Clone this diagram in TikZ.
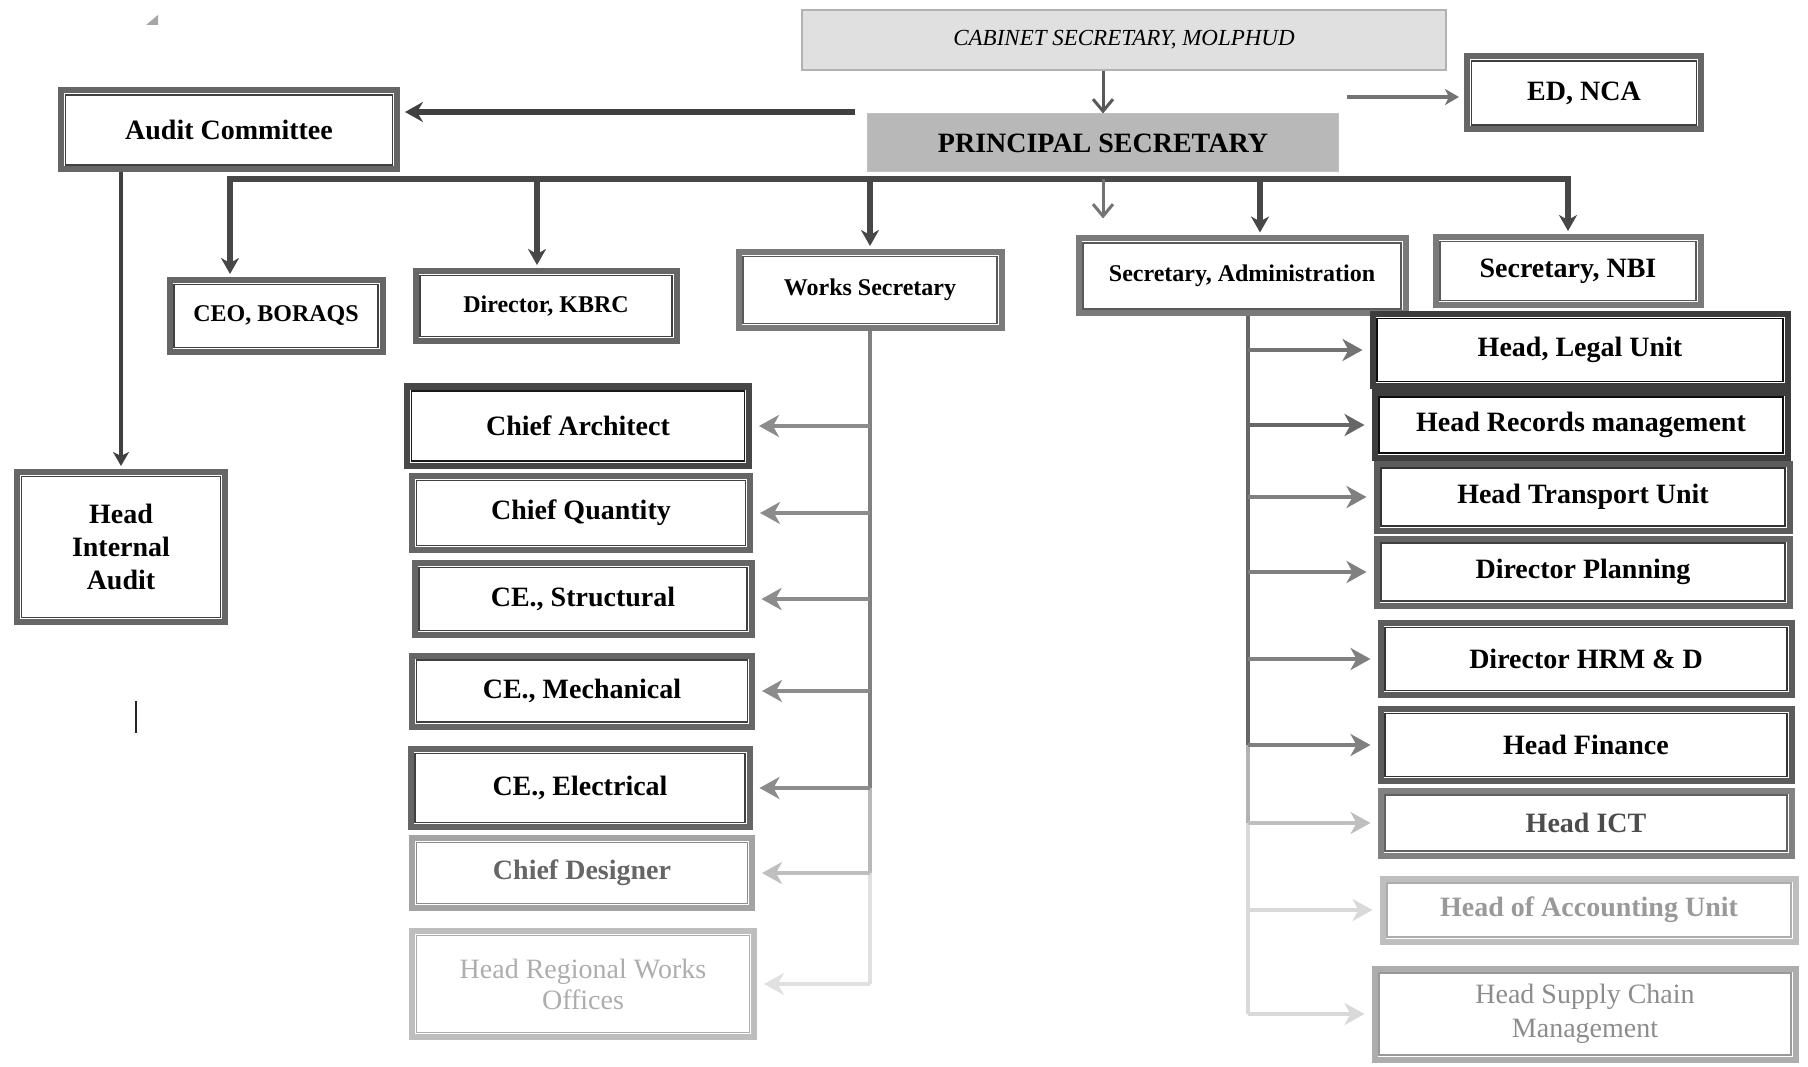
\documentclass[tikz,border=0pt]{standalone}
\usepackage{fontspec}
\setmainfont{Liberation Serif}
\usetikzlibrary{arrows.meta}

\begin{document}
\begin{tikzpicture}[x=1pt,y=-1pt]

	\useasboundingbox (0,0) rectangle (1808,1067);

	\tikzset{unit/.style={draw=#1!white!80,line width=6pt,align=center,inner sep=0pt,
		font=\fontsize{28}{33}\selectfont\bfseries,
		append after command={\pgfextra{\let\unitnode\tikzlastnode
			\draw[#1,line width=1.6pt] ([shift={(7.5pt,7.5pt)}]\unitnode.south west) rectangle ([shift={(-7.5pt,-7.5pt)}]\unitnode.north east);}}},
		unit/.default=black!75}
	\tikzstyle{small}=[font=\fontsize{24}{28}\selectfont\bfseries]
	\tikzstyle{busline}=[draw=black!72,line width=6pt,-{Stealth[length=16pt,width=18pt,inset=5pt]},shorten >=3pt]
	\tikzstyle{veearrow}=[draw=black!65,line width=3pt,-{Straight Barb[length=12pt,width=20pt]}]
	\tikzstyle{feed}=[draw=black!45,line width=4pt,-{Stealth[length=20pt,width=22pt,inset=6pt]},shorten >=7pt]

	% top of the chart
	\node[draw=black!30,fill=black!12,line width=2pt,minimum width=644pt,minimum height=60pt,font=\fontsize{23}{27}\selectfont\itshape] (cab) at (1124,40) {CABINET SECRETARY, MOLPHUD};
	\node[draw=black!25,fill=black!28,line width=1pt,minimum width=471pt,minimum height=58pt,font=\fontsize{28}{33}\selectfont\bfseries] (prin) at (1103,143) {PRINCIPAL SECRETARY};

	\node[unit,minimum width=336pt,minimum height=79pt] (audc) at (229,130) {Audit Committee};
	\node[unit,minimum width=234pt,minimum height=73pt] (ednca) at (1584,93) {ED, NCA};
	\node[unit,minimum width=208pt,minimum height=150pt] (hia) at (121,547) {Head\\Internal\\Audit};

	% second level
	\node[unit,small,minimum width=213pt,minimum height=72pt] (ceo) at (276,316) {CEO, BORAQS};
	\node[unit,small,minimum width=261pt,minimum height=70pt] (kbrc) at (546,306) {Director, KBRC};
	\node[unit=black!65,small,minimum width=263pt,minimum height=76pt] (works) at (870,290) {Works Secretary};
	\node[unit=black!65,small,minimum width=327pt,minimum height=75pt] (sadm) at (1242,276) {Secretary, Administration};
	\node[unit=black!65,minimum width=265pt,minimum height=68pt] (nbi) at (1568,271) {Secretary, NBI};

	% works secretary column
	\node[unit=black!90,minimum width=342pt,minimum height=79pt] (carch) at (578,426) {Chief Architect};
	\node[unit,minimum width=338pt,minimum height=74pt] (cqty) at (581,513) {Chief Quantity};
	\node[unit,minimum width=337pt,minimum height=72pt] (cestr) at (583,599) {CE., Structural};
	\node[unit,minimum width=340pt,minimum height=71pt] (cemech) at (582,691) {CE., Mechanical};
	\node[unit,minimum width=339pt,minimum height=78pt] (ceelec) at (580,788) {CE., Electrical};
	\node[unit=black!45,text=black!60,minimum width=340pt,minimum height=70pt] (cdes) at (582,873) {Chief Designer};
	\node[unit=black!32,text=black!32,font=\fontsize{28}{31}\selectfont,minimum width=342pt,minimum height=106pt] (hrwo) at (583,984) {Head Regional Works\\Offices};

	% administration column
	\node[unit=black!95,minimum width=415pt,minimum height=72pt] (hlegal) at (1580,350) {Head, Legal Unit};
	\node[unit=black!95,minimum width=413pt,minimum height=65pt] (hrec) at (1581,425) {Head Records management};
	\node[unit=black!80,minimum width=413pt,minimum height=67pt] (htrans) at (1583,497) {Head Transport Unit};
	\node[unit=black!75,minimum width=413pt,minimum height=67pt] (dplan) at (1583,572) {Director Planning};
	\node[unit=black!80,minimum width=411pt,minimum height=72pt] (dhrm) at (1586,659) {Director HRM \& D};
	\node[unit=black!80,minimum width=411pt,minimum height=72pt] (hfin) at (1586,745) {Head Finance};
	\node[unit=black!62,text=black!70,minimum width=411pt,minimum height=65pt] (hict) at (1586,823) {Head ICT};
	\node[unit=black!32,text=black!40,minimum width=413pt,minimum height=63pt] (hacc) at (1589,910) {Head of Accounting Unit};
	\node[unit=black!40,text=black!45,font=\fontsize{28}{34}\selectfont,minimum width=421pt,minimum height=91pt] (hscm) at (1585,1014) {Head Supply Chain\\Management};

	\coordinate (audfrom) at (855,112);
	\coordinate (edfrom) at (1347,97);
	\coordinate (bus) at ([yshift=-7pt]prin.south);
	\coordinate (stray) at ([yshift=-39pt]bus);
	\coordinate (atop) at ([xshift=6pt]sadm.south);

	\draw[veearrow] (cab.south -| prin.north) -- (prin.north);
	\draw[draw=black!75,line width=6pt,-{Stealth[length=18pt,width=20pt,inset=6pt]},shorten >=5pt] (audfrom) -- (audfrom -| audc.east);
	\draw[draw=black!55,line width=3.5pt,-{Stealth[length=14pt,width=16pt,inset=4pt]},shorten >=5pt] (edfrom) -- (edfrom -| ednca.west);
	\draw[draw=black!75,line width=4pt,-{Stealth[length=14pt,width=16pt,inset=4pt]},shorten >=3pt] (hia.north |- audc.south) -- (hia.north);

	% bus under the principal secretary
	\draw[busline] (bus) -| ([xshift=-46pt]ceo.north);
	\draw[busline] (bus) -| ([xshift=-9pt]kbrc.north);
	\draw[busline] (bus) -| (works.north);
	\draw[busline] (bus) -| ([xshift=18pt]sadm.north);
	\draw[busline] (bus) -| (nbi.north);
	\draw[veearrow,draw=black!55] (bus) -- (stray);

	% works secretary branches
	\draw[draw=black!50,line width=4pt] (works.south) -- (works.south |- ceelec.east);
	\draw[draw=black!28,line width=4pt] (works.south |- ceelec.east) -- (works.south |- cdes.east);
	\draw[draw=black!12,line width=4pt] (works.south |- cdes.east) -- (works.south |- hrwo.east);
	\draw[feed] (works.south |- carch.east) -- (carch.east);
	\draw[feed] (works.south |- cqty.east) -- (cqty.east);
	\draw[feed] (works.south |- cestr.east) -- (cestr.east);
	\draw[feed] (works.south |- cemech.east) -- (cemech.east);
	\draw[feed] (works.south |- ceelec.east) -- (ceelec.east);
	\draw[feed,draw=black!25] (works.south |- cdes.east) -- (cdes.east);
	\draw[feed,draw=black!12] (works.south |- hrwo.east) -- (hrwo.east);

	% administration branches
	\draw[draw=black!60,line width=4pt] (atop) -- (atop |- hfin.west);
	\draw[draw=black!30,line width=4pt] (atop |- hfin.west) -- (atop |- hict.west);
	\draw[draw=black!15,line width=4pt] (atop |- hict.west) -- (atop |- hscm.west);
	\draw[feed,draw=black!55] (atop |- hlegal.west) -- (hlegal.west);
	\draw[feed,draw=black!60] (atop |- hrec.west) -- (hrec.west);
	\draw[feed,draw=black!50] (atop |- htrans.west) -- (htrans.west);
	\draw[feed,draw=black!50] (atop |- dplan.west) -- (dplan.west);
	\draw[feed,draw=black!50] (atop |- dhrm.west) -- (dhrm.west);
	\draw[feed,draw=black!50] (atop |- hfin.west) -- (hfin.west);
	\draw[feed,draw=black!25] (atop |- hict.west) -- (hict.west);
	\draw[feed,draw=black!15] (atop |- hacc.west) -- (hacc.west);
	\draw[feed,draw=black!15] (atop |- hscm.west) -- (hscm.west);

	% stray marks of the scan
	\fill[black!35] (146,25) -- (158,25) -- (158,15) -- cycle;
	\draw[black!85,line width=1.5pt] (136,701) -- (136,733);

\end{tikzpicture}
\end{document}
